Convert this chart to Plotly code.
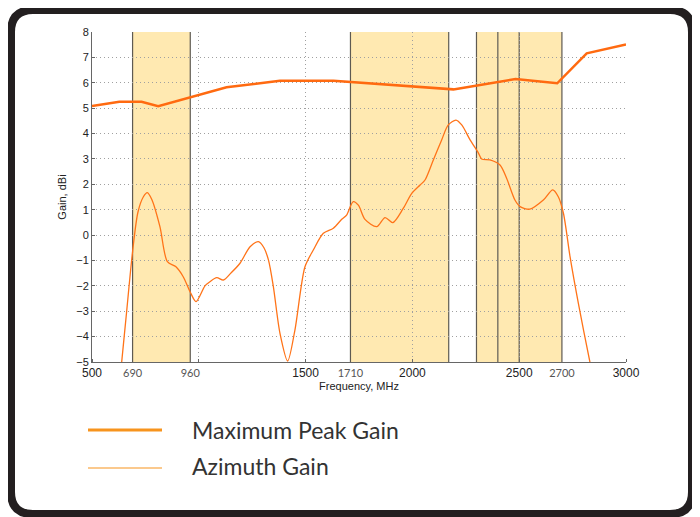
import plotly.graph_objects as go

# ---- data ----
peak_freq = [500, 628, 732, 810, 1130, 1380, 1630, 1710, 2192, 2483, 2678, 2816, 3000]
peak_gain = [5.08, 5.25, 5.25, 5.08, 5.82, 6.08, 6.08, 6.03, 5.74, 6.15, 5.98, 7.16, 7.51]

az_freq = [625, 639, 660, 690, 715, 740, 759, 780, 818, 853, 893, 927, 959, 987, 1029,
           1052, 1084, 1115, 1150, 1193, 1240, 1279, 1305, 1326, 1349, 1380, 1416, 1450,
           1497, 1536, 1583, 1630, 1669, 1692, 1723, 1747, 1778, 1833, 1872, 1908, 1957,
           1997, 2036, 2059, 2098, 2137, 2168, 2204, 2231, 2270, 2308, 2324, 2363, 2410,
           2441, 2480, 2504, 2550, 2613, 2657, 2683, 2707, 2738, 2777, 2831, 2850]
az_gain = [-6.3, -5.0, -3.2, -0.65, 0.9, 1.5, 1.67, 1.4, 0.33, -1.05, -1.25, -1.64, -2.23,
           -2.62, -2.0, -1.84, -1.68, -1.77, -1.5, -1.11, -0.46, -0.26, -0.5, -0.98, -2.03,
           -3.87, -4.96, -3.74, -1.25, -0.59, 0.07, 0.27, 0.62, 0.79, 1.32, 1.18, 0.62, 0.33,
           0.69, 0.49, 1.05, 1.64, 1.97, 2.17, 2.96, 3.75, 4.34, 4.53, 4.34, 3.75, 3.25, 3.0,
           2.96, 2.76, 2.24, 1.38, 1.12, 1.02, 1.38, 1.78, 1.51, 0.86, -0.85, -2.69, -5.0, -5.7]

bands = [(690, 960), (1710, 2170), (2300, 2400), (2400, 2500), (2500, 2700)]
edge_lines = [690, 960, 1710, 2170, 2300, 2400, 2500, 2700]

major_ticks = [500, 690, 960, 1500, 1710, 2000, 2500, 2700, 3000]
grid_x = [500, 1000, 1500, 2000, 2500, 3000]
y_ticks = list(range(-5, 9))

legend_names = ["Maximum Peak Gain", "Azimuth Gain"]

# ---- layout geometry (page has an 8px body margin) ----
OFF = 8
W, H = 700, 517
ML, MT = 92 - OFF, 32 - OFF
PW, PH = 534, 330
MR = W - ML - PW
MB = H - MT - PH


def px(x):
    return (x - OFF - ML) / PW


def py(y):
    return (MT + PH - (y - OFF)) / PH


fig = go.Figure()

fig.add_trace(go.Scatter(x=az_freq, y=az_gain, mode="lines", name=legend_names[1],
                         line=dict(color="#FF7318", width=1.3, shape="spline", smoothing=0.8),
                         showlegend=False))
fig.add_trace(go.Scatter(x=peak_freq, y=peak_gain, mode="lines", name=legend_names[0],
                         line=dict(color="#FF6A10", width=2.5), showlegend=False))

shapes = []
for a, b in bands:
    shapes.append(dict(type="rect", xref="x", yref="paper", x0=a, x1=b, y0=0, y1=1,
                       fillcolor="#FFE9B1", line=dict(width=0), layer="below"))
for v in edge_lines:
    shapes.append(dict(type="line", xref="x", yref="paper", x0=v, x1=v, y0=0, y1=1,
                       line=dict(color="#5E5A52", width=1.2), layer="below"))

# rounded frame (screen pixel coordinates)
L, R, T, B, r = 11, 692, 10, 514, 22
path = (f"M {px(L + r)},{py(T)} L {px(R - r)},{py(T)} Q {px(R)},{py(T)} {px(R)},{py(T + r)} "
        f"L {px(R)},{py(B - r)} Q {px(R)},{py(B)} {px(R - r)},{py(B)} "
        f"L {px(L + r)},{py(B)} Q {px(L)},{py(B)} {px(L)},{py(B - r)} "
        f"L {px(L)},{py(T + r)} Q {px(L)},{py(T)} {px(L + r)},{py(T)} Z")
shapes.append(dict(type="path", xref="paper", yref="paper", path=path,
                   line=dict(color="#231F20", width=8)))

# legend keys
shapes.append(dict(type="line", xref="paper", yref="paper", x0=px(88), x1=px(162),
                   y0=py(430), y1=py(430), line=dict(color="#F7941D", width=3)))
shapes.append(dict(type="line", xref="paper", yref="paper", x0=px(88), x1=px(162),
                   y0=py(468), y1=py(468), line=dict(color="#F7941D", width=1.2)))

annotations = [
    dict(xref="paper", yref="paper", x=px(190), y=py(430), text=legend_names[0],
         showarrow=False, xanchor="left", yanchor="middle",
         font=dict(family="Lato, sans-serif", size=23, color="#333333")),
    dict(xref="paper", yref="paper", x=px(190), y=py(466), text=legend_names[1],
         showarrow=False, xanchor="left", yanchor="middle",
         font=dict(family="Lato, sans-serif", size=23, color="#333333")),
]

special = {690, 960, 1710, 2700}
tick_text = []
for t in major_ticks:
    if t in special:
        tick_text.append(f"<span style='font-family:Lato;fill:#555555;font-size:11px'>{t}</span>")
    else:
        tick_text.append(str(t))

fig.update_layout(
    width=W, height=H,
    margin=dict(l=ML, r=MR, t=MT, b=MB),
    paper_bgcolor="white", plot_bgcolor="white",
    shapes=shapes, annotations=annotations,
    font=dict(family="Liberation Sans, Arial, sans-serif", size=11, color="#222222"),
    showlegend=False,
    xaxis=dict(range=[500, 3000], tickmode="array", tickvals=major_ticks, ticktext=tick_text,
               showgrid=False, zeroline=False, showline=True, linecolor="#666666",
               linewidth=1, ticks="", tickfont=dict(size=12, color="#222222"),
               title=dict(text="Frequency, MHz", font=dict(size=11), standoff=0),
               minor=dict(tickmode="array", tickvals=grid_x, showgrid=True,
                          gridcolor="#A0A0A0", griddash="1px,3px", gridwidth=1,
                          ticks="inside", ticklen=3, tickcolor="#666666")),
    yaxis=dict(range=[-5, 8], tickmode="array", tickvals=y_ticks, showgrid=True,
               gridcolor="#A0A0A0", griddash="1px,3px", gridwidth=1, zeroline=False,
               showline=True, linecolor="#666666", linewidth=1, ticks="inside", ticklen=3,
               tickcolor="#666666", tickfont=dict(size=11),
               title=dict(text="Gain, dBi", font=dict(size=11), standoff=7)),
)

fig.write_html("out.html")
